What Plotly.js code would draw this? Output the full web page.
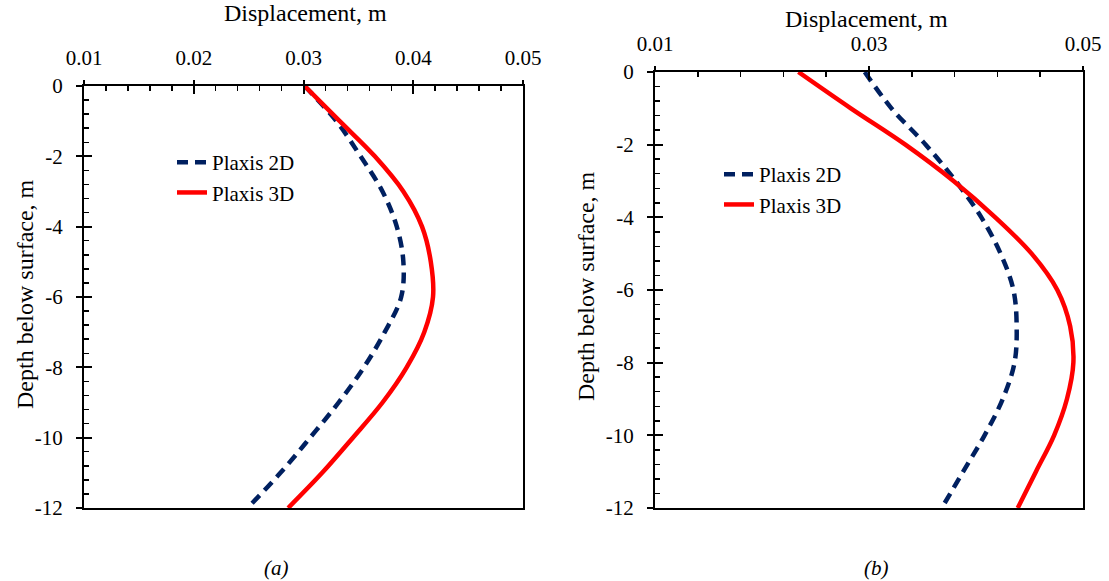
<!DOCTYPE html>
<html>
<head>
<meta charset="utf-8">
<script src="https://cdn.plot.ly/plotly-3.0.1.min.js"></script>
<style>html,body{margin:0;padding:0;background:#fff;}#chart{width:1109px;height:581px;}</style>
</head>
<body>
<div id="chart"></div>
<script>
// ---- Data ----
const seriesNames = ["Plaxis 2D", "Plaxis 3D"];
const panelLabels = ["(a)", "(b)"];
const xTitle = "Displacement, m";
const yTitle = "Depth below surface, m";
const depthTickVals = [0, -2, -4, -6, -8, -10, -12];
const depthTickText = ["0", "-2", "-4", "-6", "-8", "-10", "-12"];

// Depth below surface (m), shared by all series
const depth = [0, -1, -2, -3, -4, -5, -6, -7, -8, -9, -10, -11, -12];

// Panel (a) displacements (m)
const a2dDisp = [0.0301, 0.0330, 0.0352, 0.0372, 0.0385, 0.0391, 0.0389, 0.0374, 0.0355, 0.0332, 0.0306, 0.0279, 0.0249];
const a3dDisp = [0.0301, 0.0333, 0.0365, 0.0391, 0.0408, 0.0416, 0.0418, 0.0410, 0.0394, 0.0372, 0.0345, 0.0317, 0.0286];

// Panel (b) displacements (m)
const b2dDisp = [0.0296, 0.0321, 0.0353, 0.0381, 0.0405, 0.0423, 0.0435, 0.0438, 0.0436, 0.0425, 0.0408, 0.0388, 0.0368];
const b3dDisp = [0.0234, 0.0283, 0.0334, 0.0379, 0.0418, 0.0452, 0.0476, 0.0488, 0.0491, 0.0485, 0.0473, 0.0456, 0.0439];

// ---- Styles ----
const W = 1109, H = 581;
const FONT = "Liberation Serif";
const navy = "#002060", red = "#FF0000";
const dashStyle = {color: navy, width: 4.5, dash: "11px,7px", shape: "spline", smoothing: 1};
const solidStyle = {color: red, width: 4.5, shape: "spline", smoothing: 1};

const traces = [
  {x: a2dDisp, y: depth, xaxis: "x", yaxis: "y", mode: "lines", name: seriesNames[0], line: dashStyle, legend: "legend"},
  {x: a3dDisp, y: depth, xaxis: "x", yaxis: "y", mode: "lines", name: seriesNames[1], line: solidStyle, legend: "legend"},
  {x: b2dDisp, y: depth, xaxis: "x2", yaxis: "y2", mode: "lines", name: seriesNames[0], line: dashStyle, legend: "legend2"},
  {x: b3dDisp, y: depth, xaxis: "x2", yaxis: "y2", mode: "lines", name: seriesNames[1], line: solidStyle, legend: "legend2"},
  // empty helper traces so the overlay tick axes are drawn
  {x: [], y: [], xaxis: "x3", yaxis: "y3", mode: "lines", showlegend: false, hoverinfo: "skip"},
  {x: [], y: [], xaxis: "x4", yaxis: "y4", mode: "lines", showlegend: false, hoverinfo: "skip"}
];

function px(x) { return x / W; }
function py(y) { return 1 - y / H; }

const tickFont = {family: FONT, size: 21, color: "black"};

function xAxis(dom, anchor, dtick, minorDtick) {
  return {
    domain: dom, anchor: anchor, range: [0.01, 0.05], side: "top",
    tick0: 0.01, dtick: dtick, tickformat: ".2f",
    showline: true, linecolor: "black", linewidth: 2, mirror: true,
    ticks: "inside", ticklen: 8, tickwidth: 2, tickcolor: "black",
    minor: {dtick: minorDtick, tick0: 0.01, ticks: "inside", ticklen: 5, tickwidth: 1.5, tickcolor: "black", showgrid: false},
    showgrid: false, zeroline: false, fixedrange: true,
    ticklabelstandoff: 11,
    tickfont: tickFont
  };
}
function yAxis(dom, anchor) {
  return {
    domain: dom, anchor: anchor, range: [-12, 0],
    tickmode: "array", tickvals: depthTickVals, ticktext: depthTickText,
    showline: true, linecolor: "black", linewidth: 2, mirror: true,
    ticks: "inside", ticklen: 8, tickwidth: 2, tickcolor: "black",
    minor: {tickmode: "linear", dtick: 0.4, tick0: 0, ticks: "inside", ticklen: 5, tickwidth: 1.5, tickcolor: "black", showgrid: false},
    showgrid: false, zeroline: false, fixedrange: true,
    ticklabelstandoff: 15,
    tickfont: tickFont
  };
}
// Overlay axes: outer half of the crossing major ticks (no labels, no line)
function xOuter(over, anchor, dtick) {
  return {
    overlaying: over, anchor: anchor, side: "top", range: [0.01, 0.05], tick0: 0.01, dtick: dtick,
    ticks: "outside", ticklen: 5, tickwidth: 2, tickcolor: "black",
    showticklabels: false, showline: false, showgrid: false, zeroline: false, fixedrange: true
  };
}
function yOuter(over, anchor) {
  return {
    overlaying: over, anchor: anchor, side: "left", range: [-12, 0],
    tickmode: "array", tickvals: depthTickVals,
    ticks: "outside", ticklen: 7, tickwidth: 2, tickcolor: "black",
    showticklabels: false, showline: false, showgrid: false, zeroline: false, fixedrange: true
  };
}

const legendStyle = {
  font: {family: FONT, size: 21, color: "black"},
  bgcolor: "rgba(0,0,0,0)", borderwidth: 0,
  xanchor: "left", yanchor: "top", tracegroupgap: 0
};

const titleFont = {family: FONT, size: 24, color: "black"};
const labelFont = {family: FONT, size: 21, color: "black"};

const layout = {
  width: W, height: H,
  margin: {l: 0, r: 0, t: 0, b: 0},
  paper_bgcolor: "white", plot_bgcolor: "white",
  font: {family: FONT, size: 21, color: "black"},
  xaxis: xAxis([px(84), px(523)], "y", 0.01, 0.002),
  yaxis: yAxis([py(508), py(86)], "x"),
  xaxis2: xAxis([px(655), px(1083)], "y2", 0.02, 0.004),
  yaxis2: yAxis([py(508), py(72)], "x2"),
  xaxis3: xOuter("x", "y3", 0.01),
  yaxis3: yOuter("y", "x3"),
  xaxis4: xOuter("x2", "y4", 0.02),
  yaxis4: yOuter("y2", "x4"),
  legend: Object.assign({x: px(172), y: py(142)}, legendStyle),
  legend2: Object.assign({x: px(719), y: py(154)}, legendStyle),
  annotations: [
    {text: xTitle, xref: "paper", yref: "paper", x: px(305), y: py(13), xanchor: "center", yanchor: "middle", showarrow: false, font: titleFont},
    {text: xTitle, xref: "paper", yref: "paper", x: px(866), y: py(19), xanchor: "center", yanchor: "middle", showarrow: false, font: titleFont},
    {text: yTitle, xref: "paper", yref: "paper", x: px(25), y: py(294), xanchor: "center", yanchor: "middle", textangle: -90, showarrow: false, font: titleFont},
    {text: yTitle, xref: "paper", yref: "paper", x: px(586), y: py(286), xanchor: "center", yanchor: "middle", textangle: -90, showarrow: false, font: titleFont},
    {text: "<i>" + panelLabels[0] + "</i>", xref: "paper", yref: "paper", x: px(276), y: py(568), xanchor: "center", yanchor: "middle", showarrow: false, font: labelFont},
    {text: "<i>" + panelLabels[1] + "</i>", xref: "paper", yref: "paper", x: px(876), y: py(568), xanchor: "center", yanchor: "middle", showarrow: false, font: labelFont}
  ]
};

Plotly.newPlot("chart", traces, layout, {staticPlot: true, displayModeBar: false});
</script>
</body>
</html>
